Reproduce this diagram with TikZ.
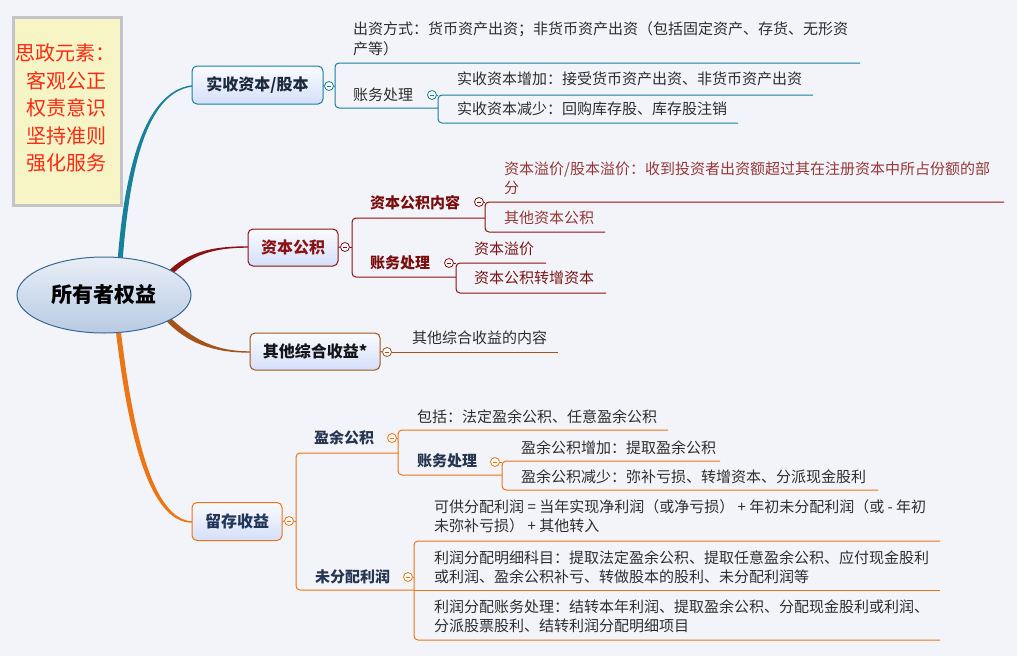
\documentclass[tikz,border=0pt]{standalone}
\usepackage{fontspec}
\setmainfont{Noto Sans CJK SC}
\usetikzlibrary{shapes.geometric}
\definecolor{bg}{HTML}{F2F4F9}
\definecolor{cteal}{HTML}{17819B}
\definecolor{cred}{HTML}{8B1212}
\definecolor{cbrown}{HTML}{A3531B}
\definecolor{corange}{HTML}{EC7615}
\definecolor{leafc}{HTML}{2E2E2E}
\definecolor{leafred}{HTML}{963838}
\definecolor{leafred2}{HTML}{7A1717}
\definecolor{subred}{HTML}{7A0E0E}
\definecolor{subnavy}{HTML}{263552}
\definecolor{boxtop}{HTML}{FAFBFF}
\definecolor{boxbot}{HTML}{D4DFFA}
\definecolor{elltop}{HTML}{E9EEF6}
\definecolor{ellbot}{HTML}{B8CBE3}
\definecolor{ellbd}{HTML}{3A6797}
\definecolor{notefill}{HTML}{F7F5C6}
\definecolor{notebd}{HTML}{C3C3C8}
\definecolor{notetxt}{HTML}{FF2A12}
\definecolor{txtb1}{HTML}{1C2A40}
\definecolor{txtb3}{HTML}{151515}
\definecolor{txtb4}{HTML}{22345A}
\begin{document}
\begin{tikzpicture}[x=1pt,y=-1pt,
  leaf/.style={anchor=west, inner sep=0pt, font=\fontsize{15}{19.5}\selectfont, text=leafc, align=left},
  sub/.style={anchor=west, inner sep=0pt, font=\fontsize{15}{19}\selectfont\bfseries},
  mainbox/.style={draw=#1, rounded corners=5pt, line width=1pt, top color=boxtop, bottom color=boxbot, minimum height=37pt, inner sep=0pt, font=\fontsize{16}{18}\selectfont\bfseries},
  fold/.style={circle, draw=#1, fill=white, inner sep=0pt, minimum size=9pt, line width=0.8pt,
    path picture={\draw[#1, line width=0.8pt] ([xshift=-2.3pt]path picture bounding box.center) -- ([xshift=2.3pt]path picture bounding box.center);}},
  link/.style={draw=#1, line width=1pt, rounded corners=4pt}]
\fill[bg] (0,0) rectangle (1017,656);
\useasboundingbox (0,0) rectangle (1017,656);

% note
\node[draw=notebd, line width=3pt, fill=notefill, minimum width=108pt, minimum height=188pt, inner sep=0pt] (note) at (67.5,111.5) {};
\node[align=center, inner sep=0pt, text=notetxt, font=\fontsize{20}{27.5}\selectfont] (notetext) at (66,108) {思政元素：\\客观公正\\权责意识\\坚持准则\\强化服务};

% tapered main connectors
\fill[cteal] (117.5,262) .. controls (124.5,170) and (144,91.3) .. (192,85.3) -- (192,86.7) .. controls (146,92.7) and (129.5,170) .. (122.5,262) -- cycle;
\fill[cred] (166.1,273.4) .. controls (188,250.4) and (215,246.3) .. (248,246.3) -- (248,247.7) .. controls (215,247.7) and (192,253.6) .. (169.9,276.6) -- cycle;
\fill[cbrown] (164.2,318.7) .. controls (186,343) and (213,352.7) .. (250,352.7) -- (250,351.3) .. controls (217,351.3) and (194,341) .. (167.9,315.3) -- cycle;
\fill[corange] (115.5,328) .. controls (127.5,430) and (148,522.7) .. (192,522.7) -- (192,521.3) .. controls (152,519.3) and (132.5,430) .. (120.5,328) -- cycle;

% center
\node[ellipse, draw=ellbd, line width=1pt, top color=elltop, bottom color=ellbot, minimum width=174pt, minimum height=76pt, inner sep=0pt, font=\fontsize{21}{24}\selectfont\bfseries, text=black] (root) at (104,295) {所有者权益};

% main boxes
\node[mainbox=cteal, minimum width=131pt, minimum height=38pt, text=txtb1] (b1) at (257.5,85) {实收资本/股本};
\node[mainbox=cred, minimum width=90pt, text=cred] (b2) at (293,247.5) {资本公积};
\node[mainbox=cbrown, minimum width=130pt, text=txtb3] (b3) at (315,351.5) {其他综合收益*};
\node[mainbox=corange, minimum width=90pt, minimum height=38pt, text=txtb4] (b4) at (237,521.5) {留存收益};

% ---------- branch 1 ----------
\coordinate (a1) at (335,86);
\coordinate (a2) at (438,95);
\draw[link=cteal] (860,63) -- (335,63) -- (335,108) -- (438,108);
\draw[link=cteal] (813,95) -- (438,95) -- (438,123) -- (738,123);
\node[leaf] (t11) at (353,39) {出资方式：货币资产出资；非货币资产出资（包括固定资产、存货、无形资\\产等）};
\node[leaf] (t12) at (353,95) {账务处理};
\node[leaf] (t13) at (457,79) {实收资本增加：接受货币资产出资、非货币资产出资};
\node[leaf] (t14) at (457,109) {实收资本减少：回购库存股、库存股注销};
\node[fold=cteal] (f1) at (329,86) {};
\node[fold=cteal] (f1b) at (432,95) {};
\draw[cteal, line width=1pt] (b1.east) -- (f1.west);
\draw[cteal, line width=1pt] (f1.east) -- (a1);
\draw[cteal, line width=1pt] (f1b.east) -- (a2);

% ---------- branch 2 ----------
\coordinate (c1) at (352,247);
\coordinate (c2) at (485,202);
\coordinate (c3) at (456,263);
\draw[link=cred] (485,218) -- (352,218) -- (352,277) -- (456,277);
\draw[link=cred] (1004,202) -- (485,202) -- (485,232) -- (605,232);
\draw[link=cred] (546,263) -- (456,263) -- (456,293) -- (606,293);
\node[sub, text=subred] (t21) at (370,203) {资本公积内容};
\node[leaf, text=leafred] (t22) at (504,178.5) {资本溢价/股本溢价：收到投资者出资额超过其在注册资本中所占份额的部\\分};
\node[leaf, text=leafred] (t23) at (504,218) {其他资本公积};
\node[sub, text=subred] (t24) at (370,263) {账务处理};
\node[leaf, text=leafred2] (t25) at (474,249) {资本溢价};
\node[leaf, text=leafred2] (t26) at (474,278) {资本公积转增资本};
\node[fold=cred] (f2) at (345,247) {};
\node[fold=cred] (f2a) at (479,202) {};
\node[fold=cred] (f2b) at (449,263) {};
\draw[cred, line width=1pt] (b2.east) -- (f2.west);
\draw[cred, line width=1pt] (f2.east) -- (c1);
\draw[cred, line width=1pt] (f2a.east) -- (c2);
\draw[cred, line width=1pt] (f2b.east) -- (c3);

% ---------- branch 3 ----------
\coordinate (d1) at (558,352);
\node[fold=cbrown] (f3) at (387,352) {};
\node[leaf] (t31) at (412,338) {其他综合收益的内容};
\draw[cbrown, line width=1pt] (b3.east) -- (f3.west);
\draw[cbrown, line width=1pt] (f3.east) -- (d1);

% ---------- branch 4 ----------
\coordinate (e1) at (296,521);
\coordinate (e2) at (398,438);
\coordinate (e3) at (502,462);
\coordinate (e4) at (414,577);
\draw[link=corange] (398,453) -- (296,453) -- (296,590) -- (414,590);
\draw[link=corange] (668,430) -- (398,430) -- (398,475) -- (502,475);
\draw[link=corange] (720,461) -- (502,461) -- (502,490) -- (878,490);
\draw[link=corange] (940,541) -- (414,541) -- (414,640) -- (940,640);
\draw[corange, line width=1pt] (414,590) -- (940,590);
\node[sub, text=subnavy] (t41) at (314,438) {盈余公积};
\node[leaf] (t42) at (417,417) {包括：法定盈余公积、任意盈余公积};
\node[sub, text=subnavy] (t43) at (417,461) {账务处理};
\node[leaf] (t44) at (521,448) {盈余公积增加：提取盈余公积};
\node[leaf] (t45) at (521,477) {盈余公积减少：弥补亏损、转增资本、分派现金股利};
\node[sub, text=subnavy] (t46) at (315,577) {未分配利润};
\node[leaf] (t47) at (434,516.5) {可供分配利润 = 当年实现净利润（或净亏损） + 年初未分配利润（或 - 年初\\未弥补亏损） + 其他转入};
\node[leaf] (t48) at (434,567) {利润分配明细科目：提取法定盈余公积、提取任意盈余公积、应付现金股利\\或利润、盈余公积补亏、转做股本的股利、未分配利润等};
\node[leaf] (t49) at (434,616.5) {利润分配账务处理：结转本年利润、提取盈余公积、分配现金股利或利润、\\分派股票股利、结转利润分配明细项目};
\node[fold=corange] (f4) at (289,521) {};
\node[fold=corange] (f4a) at (392,438) {};
\node[fold=corange] (f4b) at (495,462) {};
\node[fold=corange] (f4c) at (408,577) {};
\draw[corange, line width=1pt] (b4.east) -- (f4.west);
\draw[corange, line width=1pt] (f4.east) -- (e1);
\draw[corange, line width=1pt] (f4a.east) -- (e2);
\draw[corange, line width=1pt] (f4b.east) -- (e3);
\draw[corange, line width=1pt] (f4c.east) -- (e4);
\end{tikzpicture}
\end{document}
